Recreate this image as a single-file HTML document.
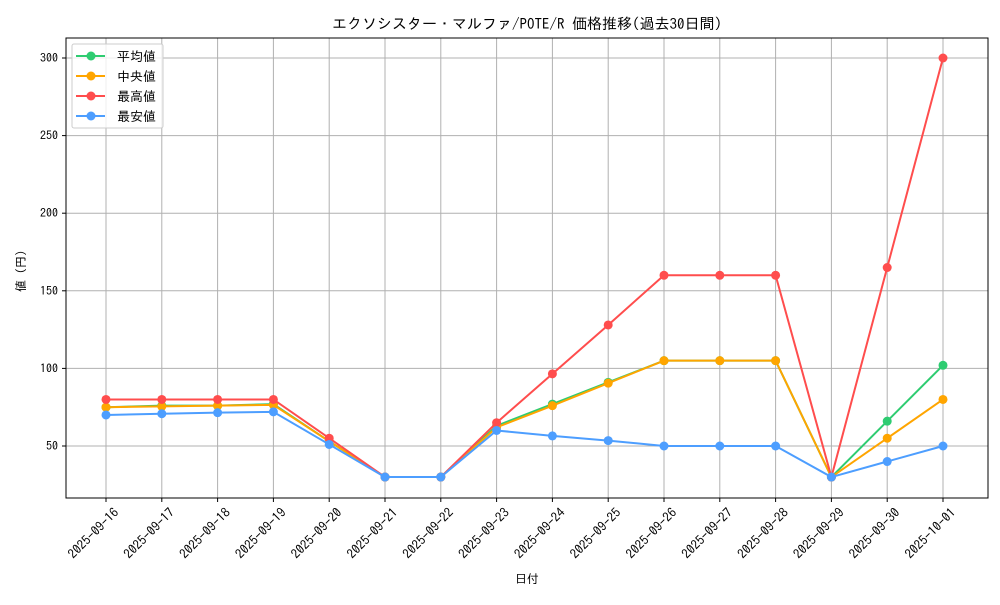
<!DOCTYPE html>
<html><head><meta charset="utf-8"><style>
body{margin:0;background:#fff;}
svg text{font-family:"IPAGothic","Noto Sans CJK JP",sans-serif;}
</style></head><body>
<svg id="s" width="1000" height="600" xmlns="http://www.w3.org/2000/svg"></svg>
<script>
const s=document.getElementById('s');
const X0=106,DX=(943-106)/15;
const Y=v=>446-(v-50)*1.552;
let h='<rect width="1000" height="600" fill="#fff"/>';
const dates=['09-16','09-17','09-18','09-19','09-20','09-21','09-22','09-23','09-24','09-25','09-26','09-27','09-28','09-29','09-30','10-01'];
for(let i=0;i<16;i++){const x=X0+i*DX;h+=`<line x1="${x}" y1="38" x2="${x}" y2="498" stroke="#b0b0b0" stroke-width="1"/>`;
h+=`<line x1="${x}" y1="498" x2="${x}" y2="502" stroke="#000"/>`;
h+=`<text transform="translate(${x+7},${507}) rotate(-45)" text-anchor="end" font-size="13" dy="0.7em">2025-${dates[i]}</text>`;}
for(let v=50;v<=300;v+=50){const y=Y(v);h+=`<line x1="66" y1="${y}" x2="988" y2="${y}" stroke="#b0b0b0"/>`;
h+=`<line x1="62" y1="${y}" x2="66" y2="${y}" stroke="#000"/>`;
h+=`<text x="58" y="${y+4}" text-anchor="end" font-size="12">${v}</text>`;}
const series=[
['#2ecc71',[75,76,76,77,53,30,30,63,77,91,105,105,105,30,66,102]],
['#ffa500',[75,75.5,76,76.5,53,30,30,62,76,90.5,105,105,105,30,55,80]],
['#ff4d4d',[80,80,80,80,55,30,30,65,96.5,128,160,160,160,30,165,300]],
['#4d9eff',[70,70.8,71.5,72,51,30,30,60,56.5,53.5,50,50,50,30,40,50]]];
for(const [c,d] of series){h+=`<polyline fill="none" stroke="${c}" stroke-width="2" points="${d.map((v,i)=>(X0+i*DX)+','+Y(v)).join(' ')}"/>`;
d.forEach((v,i)=>h+=`<circle cx="${X0+i*DX}" cy="${Y(v)}" r="4.5" fill="${c}"/>`);}
h+='<rect x="66" y="38" width="922" height="460" fill="none" stroke="#000" stroke-width="1"/>';
h+='<rect x="72" y="44" width="91" height="84" fill="#fff" fill-opacity="0.8" stroke="#ccc" rx="2"/>';
const names=['平均値','中央値','最高値','最安値'];
series.forEach(([c],i)=>{const y=56+i*20;h+=`<line x1="76" y1="${y}" x2="105" y2="${y}" stroke="${c}" stroke-width="2"/><circle cx="91" cy="${y}" r="4.5" fill="${c}"/><text x="117" y="${y+5}" font-size="13">${names[i]}</text>`;});
h+='<text x="527" y="29" text-anchor="middle" font-size="15">エクソシスター・マルファ/POTE/R 価格推移(過去30日間)</text>';
h+='<text x="527" y="583" text-anchor="middle" font-size="12">日付</text>';
h+='<text transform="translate(25,268) rotate(-90)" text-anchor="middle" font-size="12">値（円）</text>';
s.innerHTML=h;
</script>
</body></html>
